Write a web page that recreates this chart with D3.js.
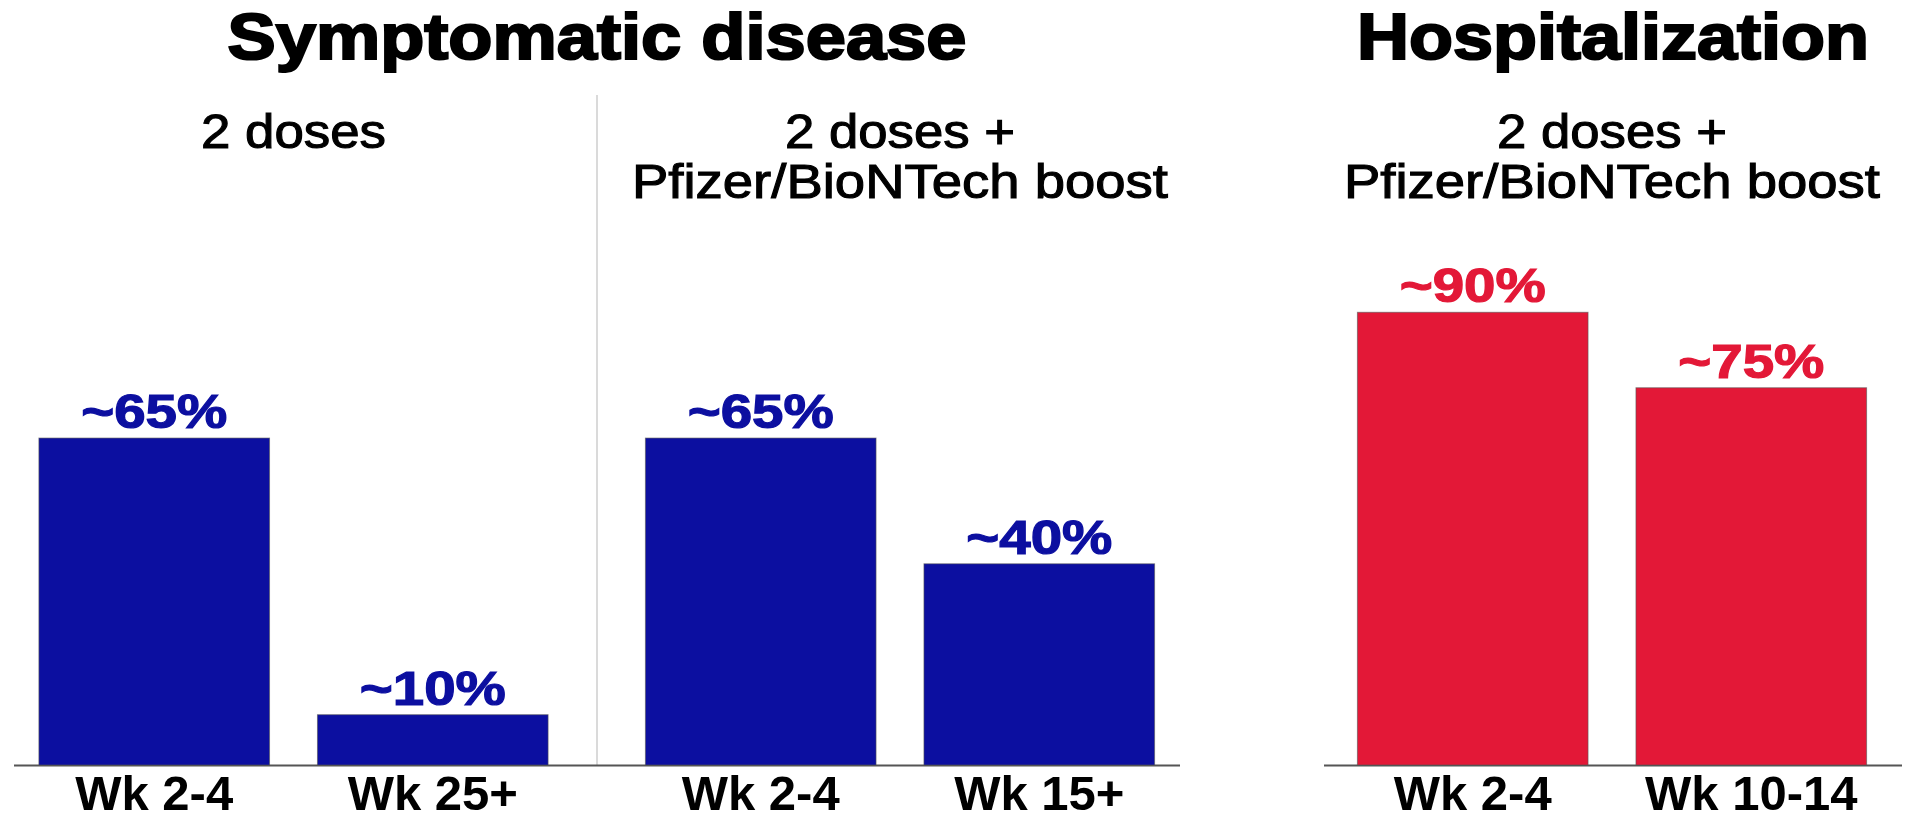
<!DOCTYPE html>
<html>
<head>
<meta charset="utf-8">
<script src="https://cdn.jsdelivr.net/npm/d3@7"></script>
<style>
    html, body { margin: 0; padding: 0; background: #fff; }
    svg { display: block; }
    text { font-family: "Liberation Sans", Arial, sans-serif; }
</style>
</head>
<body>
<div id="chart"></div>
<script>
(function () {
    'use strict';

    // data
    var sections = ["Symptomatic disease", "Hospitalization"];
    var panelTitles = [
        ["2 doses"],
        ["2 doses +", "Pfizer/BioNTech boost"],
        ["2 doses +", "Pfizer/BioNTech boost"]
    ];
    var categories = [
        ["Wk 2-4", "Wk 25+"],
        ["Wk 2-4", "Wk 15+"],
        ["Wk 2-4", "Wk 10-14"]
    ];
    var values = [
        [65, 10],
        [65, 40],
        [90, 75]
    ];
    var panelSection = [0, 0, 1];
    var sectionColours = ["#0c0fa0", "#e31837"];

    var width = 1921;
    var height = 820;
    var baseY = 765;

    // layout of each panel (centre x) and of each section
    var panelCentre = [293.5, 900, 1612];
    var panelWidth = 605;
    var sectionCentre = [597, 1613];
    var sectionTitleWidth = [739, 512];
    var sectionAxis = [[14, 1180], [1324, 1902]];

    var svg = d3.select("#chart").append("svg")
        .attr("width", width)
        .attr("height", height);

    var y = d3.scaleLinear()
        .domain([0, 100])
        .range([baseY, 262]);

    // section titles
    svg.append("g")
        .selectAll("text")
        .data(sections)
        .enter().append("text")
        .attr("x", function (d, i) { return sectionCentre[i]; })
        .attr("y", 59)
        .attr("text-anchor", "middle")
        .attr("font-size", 65)
        .attr("font-weight", "bold")
        .attr("fill", "#000")
        .attr("stroke", "#000")
        .attr("stroke-width", 2.2)
        .attr("textLength", function (d, i) { return sectionTitleWidth[i]; })
        .attr("lengthAdjust", "spacingAndGlyphs")
        .text(function (d) { return d; });

    // divider between the two symptomatic panels
    svg.append("line")
        .attr("x1", 597).attr("x2", 597)
        .attr("y1", 95).attr("y2", baseY)
        .attr("stroke", "#dadada")
        .attr("stroke-width", 2);

    // baselines
    svg.append("g")
        .selectAll("line")
        .data(sectionAxis)
        .enter().append("line")
        .attr("x1", function (d) { return d[0]; })
        .attr("x2", function (d) { return d[1]; })
        .attr("y1", baseY + 0.5)
        .attr("y2", baseY + 0.5)
        .attr("stroke", "#555")
        .attr("stroke-width", 2);

    var subWidth = { "2 doses": 185, "2 doses +": 230, "Pfizer/BioNTech boost": 536 };

    panelTitles.forEach(function (lines, p) {
        var g = svg.append("g");
        var colour = sectionColours[panelSection[p]];

        var x = d3.scaleBand()
            .domain(categories[p])
            .range([panelCentre[p] - panelWidth / 2, panelCentre[p] + panelWidth / 2])
            .paddingInner(0.172)
            .paddingOuter(0.172);

        var rows = values[p].map(function (v, i) {
            return { cat: categories[p][i], value: v };
        });

        // panel subtitle
        g.selectAll("text.sub")
            .data(lines)
            .enter().append("text")
            .attr("class", "sub")
            .attr("x", panelCentre[p])
            .attr("y", function (d, i) { return 148 + i * 50; })
            .attr("text-anchor", "middle")
            .attr("font-size", 49)
            .attr("fill", "#000")
            .attr("stroke", "#000")
            .attr("stroke-width", 1.1)
            .attr("textLength", function (d) { return subWidth[d]; })
            .attr("lengthAdjust", "spacingAndGlyphs")
            .text(function (d) { return d; });

        g.selectAll("rect")
            .data(rows)
            .enter().append("rect")
            .attr("x", function (d) { return x(d.cat); })
            .attr("y", function (d) { return y(d.value); })
            .attr("width", x.bandwidth())
            .attr("height", function (d) { return baseY - y(d.value); })
            .attr("fill", colour)
            .attr("stroke", "#555")
            .attr("stroke-opacity", 0.6)
            .attr("stroke-width", 1);

        g.selectAll("text.val")
            .data(rows)
            .enter().append("text")
            .attr("class", "val")
            .attr("x", function (d) { return x(d.cat) + x.bandwidth() / 2; })
            .attr("y", function (d) { return y(d.value) - 10; })
            .attr("text-anchor", "middle")
            .attr("font-size", 48)
            .attr("font-weight", "bold")
            .attr("fill", colour)
            .attr("stroke", colour)
            .attr("stroke-width", 1.2)
            .attr("textLength", 146)
            .attr("lengthAdjust", "spacingAndGlyphs")
            .text(function (d) { return "~" + d.value + "%"; });

        var axis = g.append("g")
            .attr("transform", "translate(0," + baseY + ")")
            .call(d3.axisBottom(x).tickSize(0).tickPadding(10));
        axis.select(".domain").remove();
        axis.selectAll("text")
            .attr("font-family", "Liberation Sans, Arial, sans-serif")
            .attr("font-size", 49)
            .attr("font-weight", "bold")
            .attr("fill", "#000");
    });
})();
</script>
</body>
</html>
